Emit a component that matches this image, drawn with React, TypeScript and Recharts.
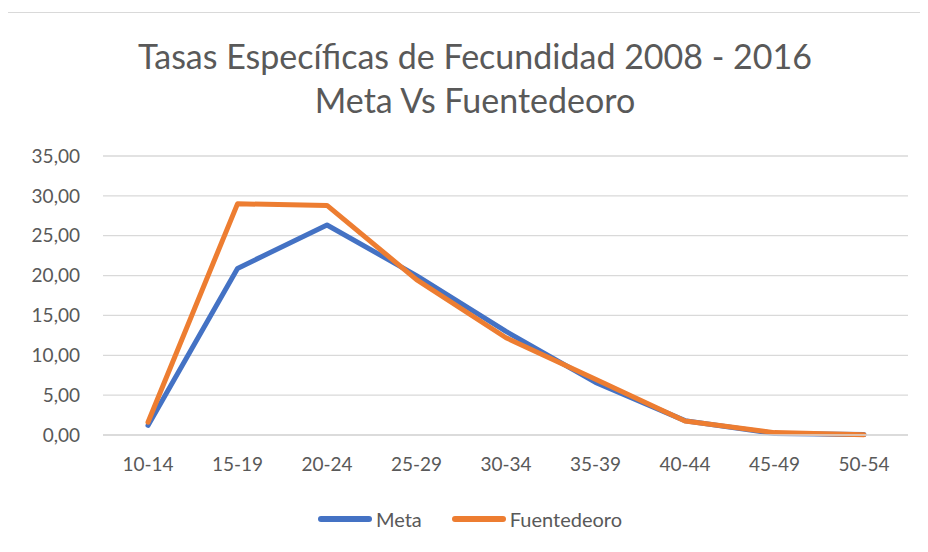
import React from 'react';
import { LineChart, Line, XAxis, YAxis, CartesianGrid } from 'recharts';

// Grupos de edad y tasas
const ageGroups = ['10-14', '15-19', '20-24', '25-29', '30-34', '35-39', '40-44', '45-49', '50-54'];
const metaValues = [1.2, 20.9, 26.35, 20.0, 13.0, 6.6, 1.8, 0.2, 0.05];
const fuentedeoroValues = [1.6, 29.0, 28.8, 19.5, 12.2, 7.0, 1.75, 0.3, 0.03];
const yTicks = [0, 5, 10, 15, 20, 25, 30, 35];

const chartData = ageGroups.map((g, i) => ({
  group: g,
  meta: metaValues[i],
  fuentedeoro: fuentedeoroValues[i],
}));

const FONT = 'Lato, "Open Sans", sans-serif';
const TEXT = '#595959';
const BLUE = '#4472C4';
const ORANGE = '#ED7D31';

const fmt = (v: number) => v.toFixed(2).replace('.', ',');

const LegendItem: React.FC<{ color: string; label: string }> = ({ color, label }) => (
  <div style={{ display: 'flex', alignItems: 'center', gap: 4 }}>
    <span style={{ width: 54, height: 6, borderRadius: 3, background: color, display: 'inline-block' }} />
    <span>{label}</span>
  </div>
);

export default function App() {
  return (
    <div
      style={{
        position: 'relative',
        width: 928,
        height: 552,
        margin: -8,
        overflow: 'hidden',
        background: '#fff',
        fontFamily: FONT,
        color: TEXT,
      }}
    >
      {/* chart frame */}
      <div
        style={{
          position: 'absolute',
          left: 5,
          top: 12,
          width: 960,
          height: 600,
          border: '1px solid #d9d9d9',
          boxSizing: 'border-box',
        }}
      />

      <div
        style={{
          position: 'absolute',
          left: 5,
          width: 940,
          top: 34,
          textAlign: 'center',
          fontSize: 34,
          lineHeight: '44px',
        }}
      >
        <div>Tasas Específicas de Fecundidad 2008 - 2016</div>
        <div>Meta Vs Fuentedeoro</div>
      </div>

      <div style={{ position: 'absolute', left: 0, top: 0 }}>
        <LineChart
          width={928}
          height={552}
          data={chartData}
          margin={{ top: 156, right: 20, bottom: 57, left: 0 }}
        >
          <CartesianGrid vertical={false} stroke="#d9d9d9" strokeWidth={1.3} />
          <XAxis
            dataKey="group"
            axisLine={{ stroke: '#d9d9d9', strokeWidth: 1.3 }}
            tickLine={false}
            tickSize={0}
            tickMargin={23}
            tick={{ fontSize: 19, fill: TEXT, fontFamily: FONT }}
            interval={0}
            padding={{ left: 45, right: 44 }}
            height={60}
          />
          <YAxis
            domain={[0, 35]}
            ticks={yTicks}
            tickFormatter={fmt}
            axisLine={false}
            tickLine={false}
            tickSize={0}
            tickMargin={23}
            width={103}
            tick={{ fontSize: 19, fill: TEXT, fontFamily: FONT }}
          />
          <Line
            type="linear"
            dataKey="meta"
            name="Meta"
            stroke={BLUE}
            strokeWidth={5}
            strokeLinejoin="round"
            strokeLinecap="round"
            dot={false}
            isAnimationActive={false}
          />
          <Line
            type="linear"
            dataKey="fuentedeoro"
            name="Fuentedeoro"
            stroke={ORANGE}
            strokeWidth={5}
            strokeLinejoin="round"
            strokeLinecap="round"
            dot={false}
            isAnimationActive={false}
          />
        </LineChart>
      </div>

      <div
        style={{
          position: 'absolute',
          left: 0,
          width: 940,
          top: 505,
          display: 'flex',
          justifyContent: 'center',
          gap: 30,
          fontSize: 20,
          lineHeight: '28px',
        }}
      >
        <LegendItem color={BLUE} label="Meta" />
        <LegendItem color={ORANGE} label="Fuentedeoro" />
      </div>
    </div>
  );
}
